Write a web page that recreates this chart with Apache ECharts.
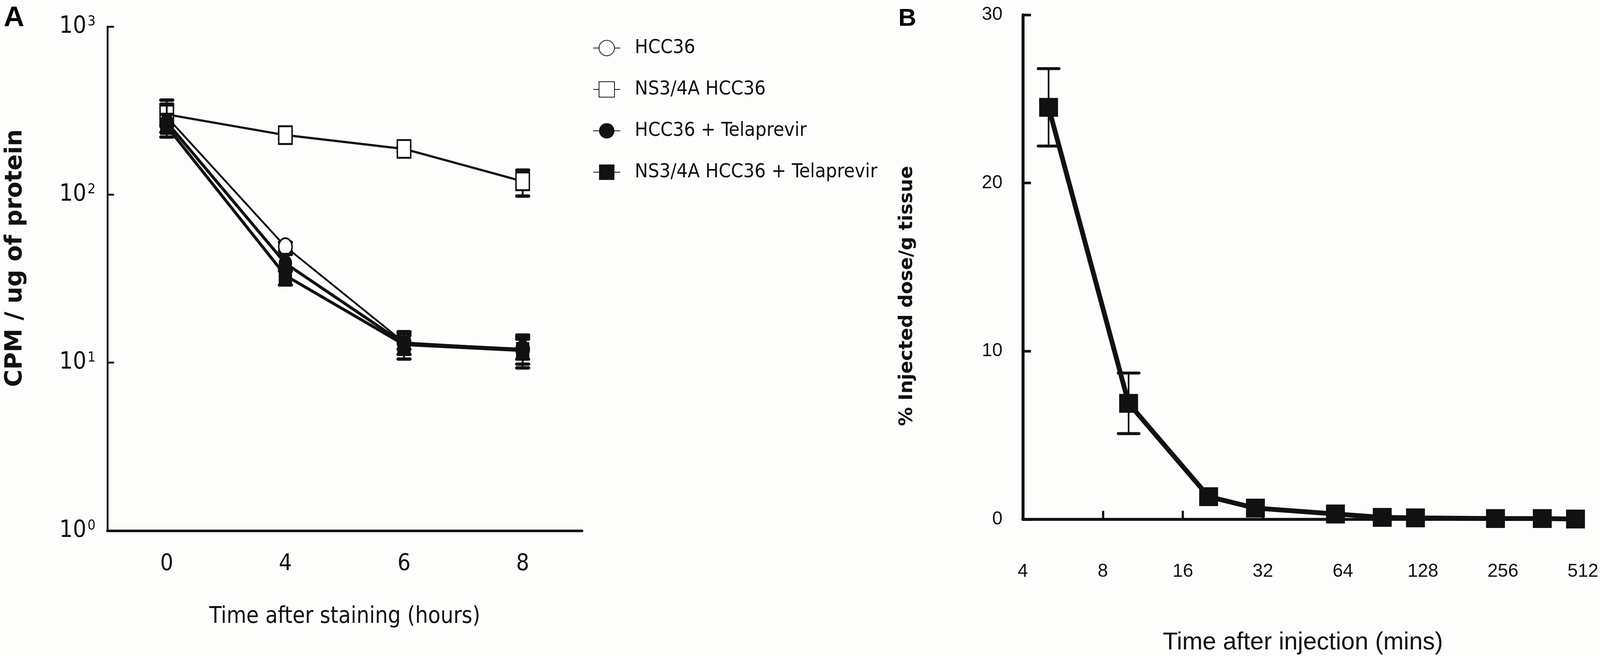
<!DOCTYPE html>
<html>
<head>
<meta charset="utf-8">
<script src="https://cdn.jsdelivr.net/npm/echarts@6/dist/echarts.min.js"></script>
<style>
html,body{margin:0;padding:0;background:#fdfdfc;overflow:hidden;}
#chart{width:100vw;height:100vh;}
</style>
</head>
<body>
<div id="chart"></div>
<script>
// ---------- Panel A data ----------
var hoursLabels = ['0', '4', '6', '8'];
var seriesNamesA = ['HCC36', 'NS3/4A HCC36', 'HCC36 + Telaprevir', 'NS3/4A HCC36 + Telaprevir'];
var hcc36 = [290, 49, 13.2, 12];
var ns34a = [300, 226, 187, 120];
var hcc36Tel = [270, 39, 13, 12];
var ns34aTel = [255, 33, 12.8, 11.8];
var hcc36Err = [[255, 330], [46, 52], [12, 14.5], [10.5, 13.8]];
var ns34aErr = [[262, 345], [215, 237], [180, 194], [98, 140]];
var hcc36TelErr = [[235, 365], [35, 44], [11.2, 15], [9.8, 14.2]];
var ns34aTelErr = [[220, 300], [29, 36], [10.5, 15.3], [9.3, 14.6]];
var yTicksA = [1, 10, 100, 1000];

// ---------- Panel B data ----------
var minutes = [5, 10, 20, 30, 60, 90, 120, 240, 360, 480];
var doseValues = [24.5, 6.9, 1.35, 0.67, 0.32, 0.12, 0.09, 0.05, 0.05, 0.02];
var doseErrMinutes = [5, 10];
var doseErrLow = [22.2, 5.1];
var doseErrHigh = [26.8, 8.7];
var xTicksB = [4, 8, 16, 32, 64, 128, 256, 512];

// ---------- scaling to the actual viewport ----------
var el = document.getElementById('chart');
var W = window.innerWidth || 4319, H = window.innerHeight || 1685;
var sx = W / 4319, sy = H / 1685, s = Math.min(sx, sy);
function px(v) { return v * sx; }
function py(v) { return v * sy; }
function fs(v) { return v * s; }

var INK = '#111111';
var NARROW = '"DejaVu Sans Condensed", "Liberation Sans Narrow", sans-serif';
var SANS = '"Liberation Sans", Arial, sans-serif';
var ELLIPSE = 'path://M0,-1A1,1,0,1,1,0,1A1,1,0,1,1,0,-1Z';

function pairs(vals) {
  return vals.map(function (v, i) { return [hoursLabels[i], v]; });
}
function errData(errs) {
  return errs.map(function (e, i) { return [hoursLabels[i], e[0], e[1]]; });
}

function errorBarRenderer(capHalf, capWidth, stemWidth) {
  return function (params, api) {
    var x = api.value(0);
    var top = api.coord([x, api.value(2)]);
    var bot = api.coord([x, api.value(1)]);
    var st = { stroke: INK, lineWidth: stemWidth, lineCap: 'round' };
    var ct = { stroke: INK, lineWidth: capWidth, lineCap: 'round' };
    return {
      type: 'group',
      children: [
        { type: 'line', shape: { x1: top[0], y1: top[1], x2: bot[0], y2: bot[1] }, style: st },
        { type: 'line', shape: { x1: top[0] - capHalf, y1: top[1], x2: top[0] + capHalf, y2: top[1] }, style: ct },
        { type: 'line', shape: { x1: bot[0] - capHalf, y1: bot[1], x2: bot[0] + capHalf, y2: bot[1] }, style: ct }
      ]
    };
  };
}

function errSeriesA(errs, z) {
  return {
    type: 'custom', xAxisIndex: 0, yAxisIndex: 0, z: z,
    renderItem: errorBarRenderer(fs(16), fs(9), fs(5)),
    encode: { x: 0, y: [1, 2] },
    data: errData(errs), silent: true
  };
}

var chart = echarts.init(el, null, { renderer: 'canvas', width: W, height: H });

var option = {
  backgroundColor: '#fdfdfc',
  animation: false,
  grid: [
    { left: px(290), top: py(68), width: px(1281), height: py(1291) },
    { left: px(2761), top: py(38), width: px(1512), height: py(1292) }
  ],
  legend: {
    orient: 'vertical', left: px(1595), top: py(93),
    itemWidth: fs(73), itemHeight: fs(52), itemGap: py(56),
    data: seriesNamesA,
    textStyle: { color: INK, fontSize: fs(53), fontFamily: NARROW, padding: [0, 0, 0, fs(34)] },
    selectedMode: false
  },
  xAxis: [
    {
      gridIndex: 0, type: 'category', data: hoursLabels, boundaryGap: true,
      axisLine: { lineStyle: { color: INK, width: fs(7) } },
      axisTick: { alignWithLabel: true, inside: true, length: fs(28), lineStyle: { color: INK, width: fs(5) } },
      axisLabel: { color: INK, fontSize: fs(62), fontFamily: NARROW, margin: py(56) },
      splitLine: { show: false },
      name: 'Time after staining (hours)', nameLocation: 'middle', nameGap: py(192),
      nameTextStyle: { color: INK, fontSize: fs(61), fontFamily: NARROW }
    },
    {
      gridIndex: 1, type: 'log', logBase: 2, min: xTicksB[0], max: xTicksB[xTicksB.length - 1], interval: 1,
      axisLine: { lineStyle: { color: INK, width: fs(8) } },
      axisTick: { inside: true, length: fs(23), lineStyle: { color: INK, width: fs(6) } },
      axisLabel: {
        color: INK, fontSize: fs(50), fontFamily: SANS, margin: py(110),
        formatter: function (v) { return String(Math.round(v)); }
      },
      splitLine: { show: false }, minorTick: { show: false },
      name: 'Time after injection (mins)', nameLocation: 'middle', nameGap: py(284),
      nameTextStyle: { color: INK, fontSize: fs(66), fontFamily: SANS }
    }
  ],
  yAxis: [
    {
      gridIndex: 0, type: 'log', logBase: 10, min: yTicksA[0], max: yTicksA[yTicksA.length - 1], interval: 1,
      axisLine: { show: true, lineStyle: { color: INK, width: fs(5) } },
      axisTick: { show: true, inside: true, length: fs(18), lineStyle: { color: INK, width: fs(5) } },
      axisLabel: {
        color: INK, margin: px(32),
        formatter: function (v) { return '{b|10}{s|' + Math.round(Math.log10(v)) + '}'; },
        rich: {
          b: { fontSize: fs(64), fontFamily: NARROW, color: INK, lineHeight: fs(64) },
          s: { fontSize: fs(38), fontFamily: NARROW, color: INK, verticalAlign: 'top', lineHeight: fs(38), padding: [0, 0, 0, fs(3)] }
        }
      },
      splitLine: { show: false }, minorTick: { show: false }
    },
    {
      gridIndex: 1, type: 'value', min: 0, max: 30, interval: 10,
      axisLine: { show: true, lineStyle: { color: INK, width: fs(8) } },
      axisTick: { show: true, inside: true, length: fs(22), lineStyle: { color: INK, width: fs(7) } },
      axisLabel: { color: INK, fontSize: fs(50), fontFamily: SANS, margin: px(55) },
      splitLine: { show: false }
    }
  ],
  graphic: [
    { type: 'text', left: px(10), top: py(10), style: { text: 'A', font: 'bold ' + fs(77) + 'px "Liberation Sans", Arial, sans-serif', fill: '#000' } },
    { type: 'text', left: px(2425), top: py(16), style: { text: 'B', font: 'bold ' + fs(67) + 'px "Liberation Sans", Arial, sans-serif', fill: '#000' } },
    { type: 'text', x: px(41), y: py(661), rotation: Math.PI / 2,
      style: { text: 'CPM / ug of protein', font: 'bold ' + fs(64) + 'px "DejaVu Sans", sans-serif', fill: INK, align: 'center', verticalAlign: 'middle' } },
    { type: 'text', x: px(2449), y: py(758), rotation: Math.PI / 2,
      style: { text: '% Injected dose/g tissue', font: 'bold ' + fs(51) + 'px "DejaVu Sans", sans-serif', fill: INK, align: 'center', verticalAlign: 'middle' } }
  ],
  series: [
    {
      name: seriesNamesA[0], type: 'line', xAxisIndex: 0, yAxisIndex: 0, z: 3,
      data: pairs(hcc36), symbol: ELLIPSE, symbolKeepAspect: false, symbolSize: [fs(36), fs(46)],
      lineStyle: { color: INK, width: fs(5) }, itemStyle: { color: '#ffffff', borderColor: INK, borderWidth: fs(4.5) }
    },
    {
      name: seriesNamesA[1], type: 'line', xAxisIndex: 0, yAxisIndex: 0, z: 3,
      data: pairs(ns34a), symbol: 'rect', symbolSize: [fs(36), fs(48)],
      lineStyle: { color: INK, width: fs(6) }, itemStyle: { color: '#ffffff', borderColor: INK, borderWidth: fs(4.5) }
    },
    {
      name: seriesNamesA[2], type: 'line', xAxisIndex: 0, yAxisIndex: 0, z: 5,
      data: pairs(hcc36Tel), symbol: ELLIPSE, symbolKeepAspect: false, symbolSize: [fs(36), fs(46)],
      lineStyle: { color: INK, width: fs(8) }, itemStyle: { color: INK }
    },
    {
      name: seriesNamesA[3], type: 'line', xAxisIndex: 0, yAxisIndex: 0, z: 5,
      data: pairs(ns34aTel), symbol: 'rect', symbolSize: [fs(36), fs(46)],
      lineStyle: { color: INK, width: fs(8) }, itemStyle: { color: INK }
    },
    errSeriesA(hcc36Err, 2),
    errSeriesA(ns34aErr, 2),
    errSeriesA(hcc36TelErr, 4),
    errSeriesA(ns34aTelErr, 4),
    {
      name: 'errB', type: 'custom', xAxisIndex: 1, yAxisIndex: 1, z: 2,
      renderItem: errorBarRenderer(fs(28), fs(8), fs(4.5)),
      encode: { x: 0, y: [1, 2] },
      data: doseErrMinutes.map(function (m, i) { return [m, doseErrLow[i], doseErrHigh[i]]; }),
      silent: true
    },
    {
      name: 'Injected dose', type: 'line', xAxisIndex: 1, yAxisIndex: 1, z: 3,
      data: minutes.map(function (m, i) { return [m, doseValues[i]]; }),
      symbol: 'rect', symbolSize: fs(51),
      lineStyle: { color: INK, width: fs(13) }, itemStyle: { color: INK }
    }
  ]
};
chart.setOption(option);
</script>
</body>
</html>
